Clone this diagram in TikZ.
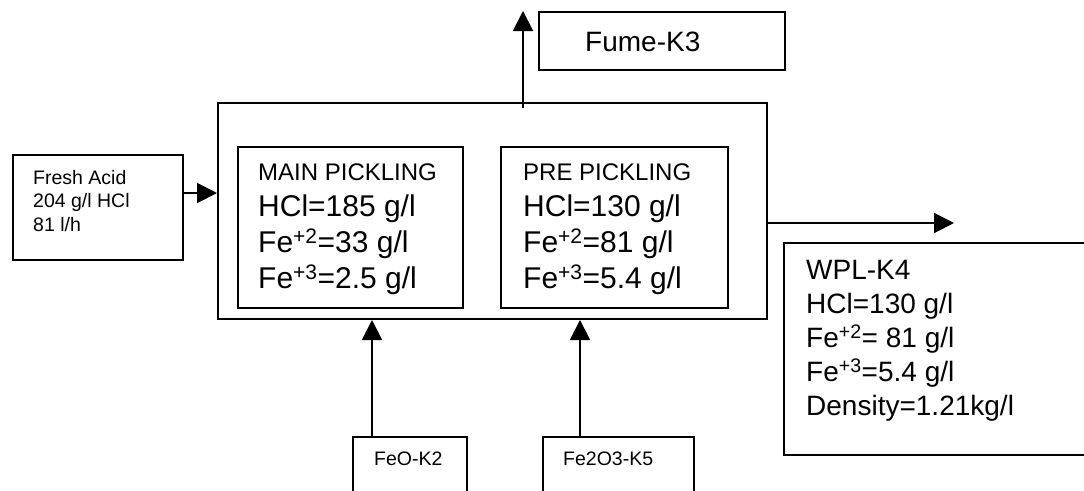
\documentclass[tikz,border=0pt]{standalone}
\usepackage{fontspec}
\setmainfont{Liberation Sans}
\usetikzlibrary{arrows.meta}

\tikzset{
  plant-box/.style={draw=black, line width=2pt, inner sep=0pt, anchor=north west},
  plant-flow/.style={-{Triangle[length=20pt, width=20pt]}, line width=2pt, draw=black},
  plant-text/.style={inner sep=0pt, anchor=north west, align=left, text=black},
}

\begin{document}
\begin{tikzpicture}[
        x=1pt, y=-1pt,
        plant-small/.style={plant-text, font=\fontsize{19.5}{23.5}\selectfont},
        plant-mid/.style={plant-text, font=\fontsize{28}{34}\selectfont},
        plant-large/.style={plant-text, font=\fontsize{30}{36}\selectfont}
    ]
    \useasboundingbox (0,0) rectangle (1084,490);

    % Boxes
    \node[plant-box, minimum width=170pt, minimum height=105pt] (fresh) at (12,154) {};
    \node[plant-box, minimum width=549pt, minimum height=216pt] (tank)  at (217,102) {};
    \node[plant-box, minimum width=225pt, minimum height=161pt] (main)  at (237,146) {};
    \node[plant-box, minimum width=227pt, minimum height=161pt] (pre)   at (500,146) {};
    \node[plant-box, minimum width=246pt, minimum height=58pt]  (fume)  at (538,11)  {};
    \node[plant-box, minimum width=330pt, minimum height=212pt] (wpl)   at (783,242) {};
    \node[plant-box, minimum width=114pt, minimum height=80pt]  (feo)   at (352,436) {};
    \node[plant-box, minimum width=151pt, minimum height=80pt]  (fe2o3) at (542,436) {};

    % Texts
    \node[plant-small] (freshtxt) at (33,170) {Fresh Acid\\204 g/l HCl\\81 l/h};
    \node[plant-mid] (fumetxt) at (585,32) {Fume-K3};
    \node[plant-large] (maintxt) at (258,164) {{\fontsize{24}{36}\selectfont MAIN PICKLING}\\HCl=185 g/l\\Fe\textsuperscript{+2}=33 g/l\\Fe\textsuperscript{+3}=2.5 g/l};
    \node[plant-large] (pretxt) at (523,164) {{\fontsize{24}{36}\selectfont PRE PICKLING}\\HCl=130 g/l\\Fe\textsuperscript{+2}=81 g/l\\Fe\textsuperscript{+3}=5.4 g/l};
    \node[plant-mid] (wpltxt) at (806,260) {WPL-K4\\HCl=130 g/l\\Fe\textsuperscript{+2}= 81 g/l\\Fe\textsuperscript{+3}=5.4 g/l\\Density=1.21kg/l};
    \node[plant-small] (feotxt) at (374,452) {FeO-K2};
    \node[plant-small] (fe2o3txt) at (563,452) {Fe2O3-K5};

    % Flows
    \coordinate (acidlvl) at (0,193);
    \coordinate (fumeout) at (523,108);
    \coordinate (wplout)  at (954,223);
    \coordinate (feolane) at (372,0);
    \coordinate (fe2o3lane) at (580,0);

    \draw[plant-flow] (fresh.east |- acidlvl) -- (tank.west |- acidlvl);
    \draw[plant-flow] (fumeout) -- (fumeout |- fume.north);
    \draw[plant-flow] (tank.east |- wplout) -- (wplout);
    \draw[plant-flow] (feo.north -| feolane) -- (tank.south -| feolane);
    \draw[plant-flow] (fe2o3.north -| fe2o3lane) -- (tank.south -| fe2o3lane);

\end{tikzpicture}
\end{document}
